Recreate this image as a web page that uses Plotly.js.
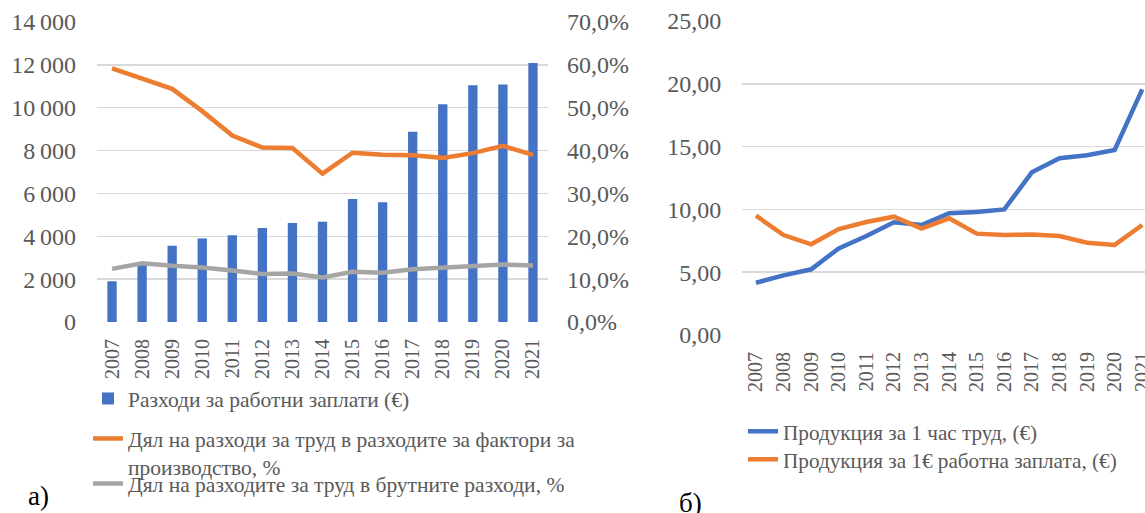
<!DOCTYPE html>
<html>
<head>
<meta charset="utf-8">
<script src="https://cdn.plot.ly/plotly-3.0.1.min.js"></script>
<style>html,body{margin:0;padding:0;background:#fff}#chart{width:1145px;height:513px}</style>
</head>
<body>
<div id="chart"></div>
<script>
// ---- data ----
const years = ['2007','2008','2009','2010','2011','2012','2013','2014','2015','2016','2017','2018','2019','2020','2021'];
const wageCosts = [1900, 2700, 3560, 3900, 4050, 4390, 4620, 4680, 5740, 5590, 8880, 10160, 11050, 11080, 12090];
const laborShareFactors = [59.2, 56.7, 54.4, 49.2, 43.5, 40.7, 40.6, 34.6, 39.5, 39.0, 38.9, 38.3, 39.4, 41.1, 39.0];
const laborShareGross = [12.4, 13.7, 13.1, 12.7, 12.0, 11.2, 11.3, 10.4, 11.7, 11.5, 12.3, 12.6, 13.1, 13.4, 13.2];
const outputPerHour = [4.16, 4.75, 5.23, 6.90, 7.88, 8.97, 8.76, 9.69, 9.79, 10.00, 12.95, 14.07, 14.31, 14.73, 19.56];
const outputPerWageEuro = [9.50, 7.96, 7.22, 8.44, 9.00, 9.42, 8.47, 9.29, 8.07, 7.96, 8.01, 7.88, 7.35, 7.17, 8.76];

const names = {
  wage: 'Разходи за работни заплати (€)',
  shareF: 'Дял на разходи за труд в разходите за фактори за<br>производство, %',
  shareG: 'Дял на разходите за труд в брутните разходи, %',
  perHour: 'Продукция за 1 час труд, (€)',
  perWage: 'Продукция за 1€ работна заплата, (€)'
};

// ---- geometry helpers ----
const W = 1145, H = 513;
const px = x => x / W;
const py = y => 1 - y / H;
const FONT = 'Liberation Serif, Times New Roman, serif';
const GREY = '#595959';
const GRID = '#d9d9d9';
const BLUE = '#4472C4', ORANGE = '#ED7D31', SILVER = '#A5A5A5';

const traces = [
  {type:'bar', x:years, y:wageCosts, name:names.wage, marker:{color:BLUE}, xaxis:'x', yaxis:'y', legend:'legend', hoverinfo:'none'},
  {type:'scatter', mode:'lines', x:years, y:laborShareFactors.map(v=>v/100), name:names.shareF,
   line:{color:ORANGE, width:4.5}, xaxis:'x', yaxis:'y2', legend:'legend2', hoverinfo:'none'},
  {type:'scatter', mode:'lines', x:years, y:laborShareGross.map(v=>v/100), name:names.shareG,
   line:{color:SILVER, width:4.5}, xaxis:'x', yaxis:'y2', legend:'legend3', hoverinfo:'none'},
  {type:'scatter', mode:'lines', x:years, y:outputPerHour, name:names.perHour,
   line:{color:BLUE, width:4.5}, xaxis:'x2', yaxis:'y3', legend:'legend4', hoverinfo:'none'},
  {type:'scatter', mode:'lines', x:years, y:outputPerWageEuro, name:names.perWage,
   line:{color:ORANGE, width:4.5}, xaxis:'x2', yaxis:'y3', legend:'legend5', hoverinfo:'none'}
];

const tickY = {family:FONT, size:24, color:GREY};
const tickX = {family:FONT, size:20, color:GREY};
function leg(x, y, size) {
  return {x:px(x), y:py(y), xanchor:'left', yanchor:'top', font:{family:FONT, size:size, color:GREY},
          bgcolor:'rgba(0,0,0,0)', borderwidth:0, valign:'top'};
}

const layout = {
  width: W, height: H,
  margin: {l:0, r:0, t:0, b:0},
  paper_bgcolor: '#fff', plot_bgcolor: '#fff',
  separators: ',\u2009',
  bargap: 0.69,
  showlegend: true,
  xaxis: {domain:[px(97), px(548)], anchor:'y', type:'category', tickangle:-90, tickfont:tickX,
          showgrid:false, showline:false, ticks:'', ticklabelstandoff:12, fixedrange:true},
  yaxis: {domain:[py(322), py(22)], anchor:'x', range:[0,14000], dtick:2000, tickformat:',d', tickfont:tickY,
          showgrid:true, gridcolor:GRID, gridwidth:1.5, zeroline:false, showline:false, ticks:'', ticklabelstandoff:20},
  yaxis2: {overlaying:'y', side:'right', anchor:'x', range:[0,0.7], dtick:0.1, tickformat:'.1%', tickfont:tickY,
           showgrid:false, zeroline:false, showline:false, ticks:'', ticklabelstandoff:18},
  xaxis2: {domain:[px(742.2), 1], anchor:'y3', type:'category', range:[-0.5, 14.1], tickangle:-90, tickfont:tickX,
           showgrid:false, showline:false, ticks:'', ticklabelstandoff:12},
  yaxis3: {domain:[py(335), py(21)], anchor:'x2', range:[0,25], dtick:5, tickformat:'.2f', tickfont:tickY,
           showgrid:true, gridcolor:GRID, gridwidth:1.5, zeroline:false, showline:false, ticks:'', ticklabelstandoff:20},
  legend: leg(88, 378, 21.5),
  legend2: leg(88, 418, 21.5),
  legend3: leg(88, 463, 21.5),
  legend4: leg(743, 411, 21.2),
  legend5: leg(743, 439, 21.2),
  annotations: [
    {xref:'paper', yref:'paper', x:px(26), y:py(496), xanchor:'left', yanchor:'middle', text:'а)', showarrow:false,
     font:{family:FONT, size:27, color:'#000'}},
    {xref:'paper', yref:'paper', x:px(677), y:py(503), xanchor:'left', yanchor:'middle', text:'б)', showarrow:false,
     font:{family:FONT, size:27, color:'#000'}}
  ]
};

Plotly.newPlot('chart', traces, layout, {staticPlot:true, displayModeBar:false});
</script>
</body>
</html>
